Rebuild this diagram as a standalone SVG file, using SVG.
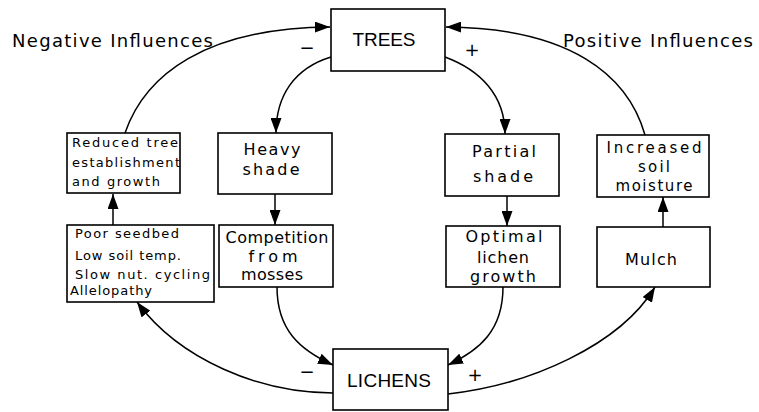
<svg xmlns="http://www.w3.org/2000/svg" width="759" height="412" viewBox="0 0 759 412">
  <style>
    .box { fill: #ffffff; stroke: #000000; stroke-width: 1.6; }
    .wire { fill: none; stroke: #000000; stroke-width: 1.5; marker-end: url(#head); }
    .big { font-family: "Liberation Sans", Arial, sans-serif; font-size: 19px; fill: #000; text-anchor: middle; }
    .lbl { font-family: "DejaVu Sans", sans-serif; font-size: 16px; fill: #000; text-anchor: middle; }
    .tight { font-size: 15px; }
    .sm { font-family: "DejaVu Sans", sans-serif; font-size: 13px; fill: #000; }
    .hdr { font-family: "DejaVu Sans", sans-serif; font-size: 18px; fill: #000; }
    .sign { font-family: "DejaVu Sans", sans-serif; font-size: 18px; fill: #000; text-anchor: middle; }
  </style>
  <defs>
    <marker id="head" markerUnits="userSpaceOnUse" markerWidth="15" markerHeight="11" refX="15" refY="5.5" orient="auto">
      <path d="M0,0 L15,5.5 L0,11 z" fill="#000"/>
    </marker>
  </defs>

  <rect width="759" height="412" fill="#ffffff"/>

  <!-- side headings -->
  <text class="hdr" x="12" y="47" textLength="201" lengthAdjust="spacing">Negative Influences</text>
  <text class="hdr" x="563" y="47" textLength="190" lengthAdjust="spacing">Positive Influences</text>

  <!-- connectors -->
  <g id="connectors">
    <path class="wire" d="M125,133 C145,75 205,28 330,27"/>
    <path class="wire" d="M645,135 C628,75 570,28 446,27"/>
    <path class="wire" d="M331,57 C295,68 276,95 276,133"/>
    <path class="wire" d="M445,57 C480,70 505,95 505,134"/>
    <path class="wire" d="M275,194 L275,225"/>
    <path class="wire" d="M113,225 L113,194"/>
    <path class="wire" d="M507,196 L507,226"/>
    <path class="wire" d="M663,227 L663,197"/>
    <path class="wire" d="M277,287 C277,330 300,350 333,365"/>
    <path class="wire" d="M503,287 C503,330 480,350 448,365"/>
    <path class="wire" d="M333,393 C260,393 180,360 137,302"/>
    <path class="wire" d="M448,394 C530,385 620,345 655,287"/>
  </g>

  <!-- loop polarity signs -->
  <text class="sign" x="307" y="54">−</text>
  <text class="sign" x="472" y="56">+</text>
  <text class="sign" x="307" y="378">−</text>
  <text class="sign" x="475" y="381">+</text>

  <g id="trees">
    <rect class="box" x="331" y="9" width="114" height="62"/>
    <text class="big" x="384" y="46" textLength="63" lengthAdjust="spacing">TREES</text>
  </g>

  <g id="lichens">
    <rect class="box" x="333" y="349" width="115" height="61"/>
    <text class="big" x="389" y="387" textLength="84" lengthAdjust="spacing">LICHENS</text>
  </g>

  <g id="reduced-tree">
    <rect class="box" x="67" y="133" width="113" height="60"/>
    <text class="sm" x="72" y="147" textLength="106" lengthAdjust="spacing">Reduced tree</text>
    <text class="sm" x="72" y="167" textLength="108" lengthAdjust="spacing">establishment</text>
    <text class="sm" x="72" y="186" textLength="88" lengthAdjust="spacing">and growth</text>
  </g>

  <g id="soil-conditions">
    <rect class="box" x="67" y="225" width="147" height="77"/>
    <text class="sm" x="75" y="238" textLength="104" lengthAdjust="spacing">Poor seedbed</text>
    <text class="sm" x="75" y="260" textLength="106" lengthAdjust="spacing">Low soil temp.</text>
    <text class="sm" x="75" y="279" textLength="135" lengthAdjust="spacing">Slow nut. cycling</text>
    <text class="sm" x="70" y="295" textLength="82" lengthAdjust="spacing">Allelopathy</text>
  </g>

  <g id="heavy-shade">
    <rect class="box" x="218" y="133" width="114" height="61"/>
    <text class="lbl" x="272" y="155" textLength="57" lengthAdjust="spacing">Heavy</text>
    <text class="lbl" x="271" y="175" textLength="57" lengthAdjust="spacing">shade</text>
  </g>

  <g id="moss-competition">
    <rect class="box" x="219" y="225" width="114" height="62"/>
    <text class="lbl" x="277" y="243" textLength="103" lengthAdjust="spacing">Competition</text>
    <text class="lbl" x="273" y="262" textLength="49" lengthAdjust="spacing">from</text>
    <text class="lbl" x="272" y="280" textLength="62" lengthAdjust="spacing">mosses</text>
  </g>

  <g id="partial-shade">
    <rect class="box" x="445" y="134" width="114" height="62"/>
    <text class="lbl" x="504" y="157" textLength="64" lengthAdjust="spacing">Partial</text>
    <text class="lbl" x="503" y="182" textLength="60" lengthAdjust="spacing">shade</text>
  </g>

  <g id="lichen-growth">
    <rect class="box" x="446" y="226" width="114" height="61"/>
    <text class="lbl" x="504" y="242" textLength="77" lengthAdjust="spacing">Optimal</text>
    <text class="lbl" x="503" y="263" textLength="52" lengthAdjust="spacing">lichen</text>
    <text class="lbl" x="503" y="282" textLength="66" lengthAdjust="spacing">growth</text>
  </g>

  <g id="soil-moisture">
    <rect class="box" x="597" y="135" width="112" height="62"/>
    <text class="lbl tight" x="654" y="153" textLength="95" lengthAdjust="spacing">Increased</text>
    <text class="lbl tight" x="654" y="172" textLength="32" lengthAdjust="spacing">soil</text>
    <text class="lbl tight" x="654" y="191" textLength="77" lengthAdjust="spacing">moisture</text>
  </g>

  <g id="mulch">
    <rect class="box" x="597" y="227" width="113" height="60"/>
    <text class="lbl" x="651" y="265" textLength="52" lengthAdjust="spacing">Mulch</text>
  </g>
</svg>
